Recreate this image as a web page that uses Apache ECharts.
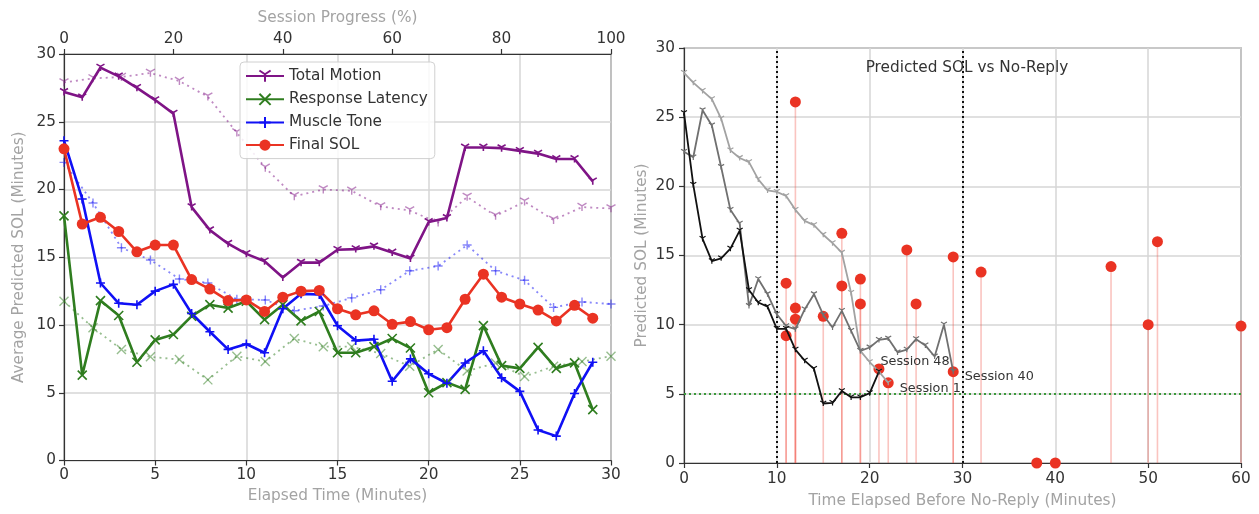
<!DOCTYPE html>
<html><head><meta charset="utf-8">
<script src="https://cdn.jsdelivr.net/npm/echarts@6/dist/echarts.min.js"></script>
<style>html,body{margin:0;padding:0;background:#fff}#c{width:1259px;height:514px}</style>
</head><body><div id="c"></div>
<script>
// ---------- Left panel data ----------
const minutes = [0,1,2,3,4,5,6,7,8,9,10,11,12,13,14,15,16,17,18,19,20,21,22,23,24,25,26,27,28,29];
const totalMotion = [27.2,26.8,29.0,28.35,27.5,26.6,25.6,18.7,17.0,16.0,15.25,14.7,13.5,14.6,14.6,15.55,15.6,15.8,15.35,14.9,17.6,17.9,23.1,23.1,23.05,22.85,22.65,22.25,22.25,20.6];
const responseLatency = [18.05,6.3,11.8,10.7,7.25,8.9,9.3,10.65,11.5,11.25,11.75,10.4,11.5,10.3,11.0,7.95,7.95,8.4,9.0,8.3,5.0,5.75,5.25,9.95,7.0,6.8,8.35,6.8,7.2,3.75];
const muscleTone = [23.6,19.3,13.1,11.6,11.5,12.5,13.0,10.85,9.5,8.2,8.6,7.95,11.2,12.3,12.25,9.95,8.85,8.95,5.85,7.5,6.4,5.7,7.2,8.1,6.1,5.1,2.25,1.8,4.95,7.25];
const finalSOL = [23.0,17.45,17.95,16.9,15.4,15.9,15.9,13.35,12.65,11.8,11.85,11.0,12.05,12.5,12.55,11.2,10.75,11.05,10.05,10.25,9.65,9.8,11.9,13.75,12.05,11.55,11.1,10.3,11.45,10.5];

const progressPct = [0,5.3,10.5,15.8,21.1,26.3,31.6,36.8,42.1,47.4,52.6,57.9,63.2,68.4,73.7,78.9,84.2,89.5,94.7,100];
const totalMotionTrend = [27.9,28.2,28.3,28.6,28.0,26.85,24.2,21.6,19.5,20.0,19.9,18.75,18.45,17.55,19.45,18.05,19.1,17.75,18.7,18.6];
const latencyTrend = [11.75,9.8,8.2,7.65,7.45,5.95,7.7,7.3,9.0,8.4,8.4,7.9,6.95,8.2,6.6,7.2,6.2,6.95,7.3,7.7];
const muscleTrend = [22.0,19.0,15.7,14.8,13.4,13.1,11.9,11.85,11.05,11.4,12.0,12.6,14.0,14.35,15.9,14.0,13.3,11.3,11.7,11.55];

// ---------- Right panel data ----------
const stemX = [11,11,12,12,12,15,17,17,19,19,21,22,24,25,29,29,32,38,40,46,50,51,60];
const stemY = [13.0,9.2,26.1,11.2,10.4,10.6,16.6,12.8,13.3,11.5,6.8,5.8,15.4,11.5,14.9,6.6,13.8,0,0,14.2,10.0,16.0,9.9];

const s1X = [0,1,2,3,4,5,6,7,8,9,10,11,12,13,14,15,16,17,18,19,20,21,22];
const s1Y = [28.2,27.5,26.9,26.3,24.9,22.6,22.05,21.75,20.5,19.7,19.6,19.3,18.3,17.5,17.2,16.5,15.9,15.2,12.3,8.1,7.3,6.6,5.8];
const s40X = [0,1,2,3,4,5,6,7,8,9,10,11,12,13,14,15,16,17,18,19,20,21,22,23,24,25,26,27,28,29];
const s40Y = [22.5,22.1,25.5,24.4,21.4,18.3,17.3,11.35,13.3,12.2,10.75,9.9,9.67,11.1,12.2,10.7,9.8,11.0,9.55,8.1,8.35,8.9,9.0,8.0,8.2,8.95,8.5,7.7,10.0,6.6];
const s48X = [0,1,2,3,4,5,6,7,8,9,10,11,12,13,14,15,16,17,18,19,20,21];
const s48Y = [25.3,20.1,16.2,14.6,14.8,15.5,16.8,12.5,11.6,11.3,9.7,9.7,8.2,7.4,6.8,4.3,4.35,5.2,4.75,4.75,5.05,6.6];

const noReplyRefX = [10, 30];
const solThreshold = 5;

const legendNames = ['Total Motion','Response Latency','Muscle Tone','Final SOL'];
const panelTitle = 'Predicted SOL vs No-Reply';

// ---------- styling helpers ----------
const FONT = 'DejaVu Sans';
const FS = 15.3;
const C = {purple:'#7f1486', green:'#2f7d1f', blue:'#1010f5', red:'#ea3323'};
const TRI = 'path://M0,0L0,10M0,0L-8.66,-5M0,0L8.66,-5';
const XM = 'path://M-5,-5L5,5M-5,5L5,-5';
const PLUS = 'path://M-5,0L5,0M0,-5L0,5';

function pairs(xs, ys){ return xs.map((x,i)=>[x, ys[i]]); }

function mainLine(name, ys, color, symbol, size){
  const isCircle = symbol === 'circle';
  return {
    type:'line', name, xAxisIndex:0, yAxisIndex:0,
    data: pairs(minutes, ys),
    symbol, symbolSize:size, symbolKeepAspect:true, showAllSymbol:true,
    lineStyle:{color, width:2.6},
    itemStyle: isCircle ? {color, borderWidth:0, opacity:1} : {color:'none', borderColor:color, borderWidth:1.6},
    z: 3
  };
}
function trendLine(name, ys, color, symbol, size){
  return {
    type:'line', name, xAxisIndex:1, yAxisIndex:0,
    data: pairs(progressPct, ys),
    symbol, symbolSize:size, symbolKeepAspect:true, showAllSymbol:true,
    lineStyle:{color, width:1.8, type:[2,4], opacity:0.5},
    itemStyle:{color:'none', borderColor:color, borderWidth:1.4, opacity:0.5},
    z: 2
  };
}
function sessionLine(name, xs, ys, color, label, lblDist, lblOff){
  const d = pairs(xs, ys).map(v=>({value:v}));
  d[d.length-1].label = {show:true, formatter:label, position:'right', distance:lblDist, offset:lblOff,
    color:'#333', fontSize:12.8, fontFamily:FONT};
  return {
    type:'line', name, xAxisIndex:2, yAxisIndex:1, data:d,
    symbol:TRI, symbolSize:6, symbolKeepAspect:true, showAllSymbol:true,
    lineStyle:{color, width:1.8},
    itemStyle:{color:'none', borderColor:color, borderWidth:1.2},
    z: 5
  };
}

const axisLabelStyle = {color:'#333', fontSize:FS, fontFamily:FONT};
const nameStyle = {color:'#a3a3a3', fontSize:FS, fontFamily:FONT};
const splitStyle = {show:true, lineStyle:{color:'#d6d6d6', width:1.5}};
const axisLineStyle = {show:true, lineStyle:{color:'#333', width:1.2}};
const tickStyle = {show:true, length:5, lineStyle:{color:'#333', width:1.2}};

const option = {
  animation:false,
  textStyle:{fontFamily:FONT},
  title:{text:panelTitle, left:962, top:56, textAlign:'center',
    textStyle:{fontSize:FS, fontWeight:'normal', color:'#333', fontFamily:FONT}},
  legend:{
    data:legendNames, left:240, top:62, orient:'vertical', itemGap:7,
    itemWidth:38, itemHeight:14, padding:[6,7,6,5],
    backgroundColor:'rgba(255,255,255,0.85)', borderColor:'#d0d0d0', borderWidth:1, borderRadius:4,
    textStyle:{fontSize:FS, color:'#333', fontFamily:FONT}
  },
  grid:[
    {left:64, top:54, width:547, height:406.5, show:true, borderColor:'#333', borderWidth:1.2, containLabel:false},
    {left:684, top:48, width:557, height:416, show:true, borderColor:'#444', borderWidth:1.2, containLabel:false}
  ],
  xAxis:[
    {gridIndex:0, type:'value', position:'bottom', min:0, max:30, interval:5,
      name:'Elapsed Time (Minutes)', nameLocation:'middle', nameGap:28, nameTextStyle:nameStyle,
      axisLabel:{...axisLabelStyle, margin:7}, axisLine:axisLineStyle, axisTick:tickStyle, splitLine:splitStyle},
    {gridIndex:0, type:'value', position:'top', min:0, max:100, interval:20,
      name:'Session Progress (%)', nameLocation:'middle', nameGap:28, nameTextStyle:nameStyle,
      axisLabel:{...axisLabelStyle, margin:7}, axisLine:axisLineStyle, axisTick:tickStyle, splitLine:{show:false}},
    {gridIndex:1, type:'value', position:'bottom', min:0, max:60, interval:10,
      name:'Time Elapsed Before No-Reply (Minutes)', nameLocation:'middle', nameGap:31, nameTextStyle:nameStyle,
      axisLabel:{...axisLabelStyle, margin:9}, axisLine:axisLineStyle, axisTick:tickStyle, splitLine:splitStyle}
  ],
  yAxis:[
    {gridIndex:0, type:'value', min:0, max:30, interval:5,
      name:'Average Predicted SOL (Minutes)', nameLocation:'middle', nameGap:37, nameTextStyle:nameStyle,
      axisLabel:{...axisLabelStyle, margin:8}, axisLine:axisLineStyle, axisTick:tickStyle, splitLine:splitStyle},
    {gridIndex:1, type:'value', min:0, max:30, interval:5,
      name:'Predicted SOL (Minutes)', nameLocation:'middle', nameGap:34, nameTextStyle:nameStyle,
      axisLabel:{...axisLabelStyle, margin:9}, axisLine:axisLineStyle, axisTick:tickStyle, splitLine:splitStyle}
  ],
  series:[
    trendLine('Total Motion (trend)', totalMotionTrend, C.purple, TRI, 9),
    trendLine('Response Latency (trend)', latencyTrend, C.green, XM, 9),
    trendLine('Muscle Tone (trend)', muscleTrend, C.blue, PLUS, 9),
    mainLine('Total Motion', totalMotion, C.purple, TRI, 8),
    mainLine('Response Latency', responseLatency, C.green, XM, 9),
    mainLine('Muscle Tone', muscleTone, C.blue, PLUS, 9),
    mainLine('Final SOL', finalSOL, C.red, 'circle', 11),
    // right panel
    {
      type:'custom', name:'stems', xAxisIndex:2, yAxisIndex:1, data:pairs(stemX, stemY), z:1,
      renderItem:(params, api)=>{
        const p0 = api.coord([api.value(0), 0]);
        const p1 = api.coord([api.value(0), api.value(1)]);
        return {type:'line', shape:{x1:p0[0], y1:p0[1], x2:p1[0], y2:p1[1]},
          style:{stroke:'rgba(240,70,60,0.32)', lineWidth:1.6}};
      }
    },
    {
      type:'line', name:'refs', xAxisIndex:2, yAxisIndex:1, data:[], symbol:'none',
      markLine:{silent:true, symbol:'none', label:{show:false},
        data:[
          ...noReplyRefX.map(x=>({xAxis:x, lineStyle:{color:'#111', width:2, type:[2,3]}})),
          {yAxis:solThreshold, lineStyle:{color:'#3a9a3a', width:2, type:[2,3]}}
        ]}
    },
    {
      type:'scatter', name:'No-Reply', xAxisIndex:2, yAxisIndex:1, data:pairs(stemX, stemY),
      symbol:'circle', symbolSize:11, itemStyle:{color:C.red, opacity:1}, z:4, clip:true
    },
    sessionLine('Session 1', s1X, s1Y, '#a2a2a2', 'Session 1', 6, [0,6]),
    sessionLine('Session 40', s40X, s40Y, '#707070', 'Session 40', 6, [0,5]),
    sessionLine('Session 48', s48X, s48Y, '#111111', 'Session 48', -4, [0,-10])
  ]
};
const chart = echarts.init(document.getElementById('c'), null, {renderer:'canvas'});
chart.setOption(option);
</script>
</body></html>
